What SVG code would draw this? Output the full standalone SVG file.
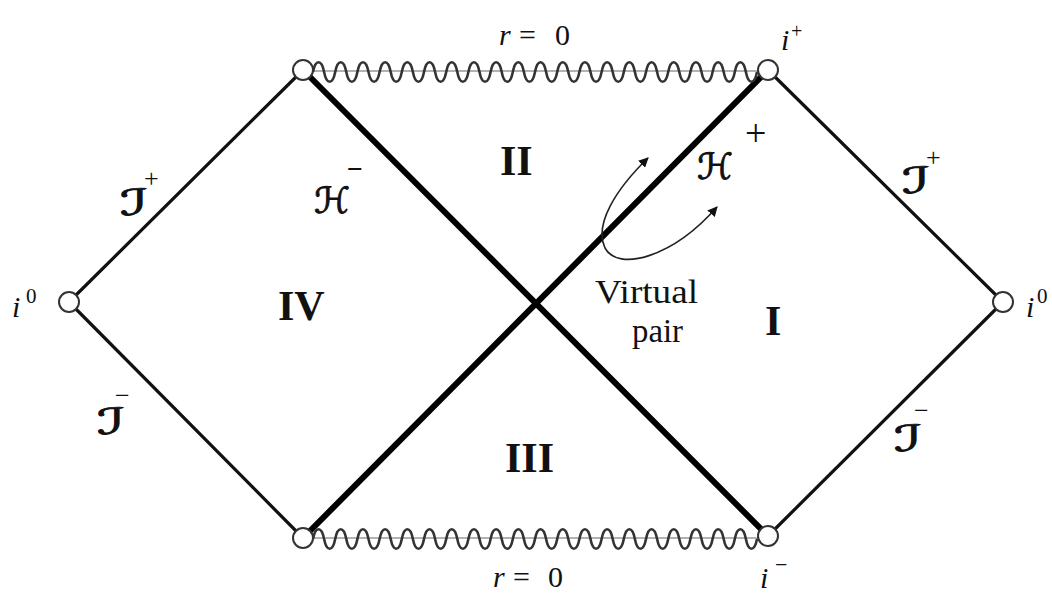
<svg xmlns="http://www.w3.org/2000/svg" width="1052" height="593" viewBox="0 0 1052 593">
<defs>
<style>
.thin{stroke:#111;stroke-width:3.2;fill:none;stroke-linecap:round}
.thick{stroke:#000;stroke-width:6;fill:none;stroke-linecap:round}
.wave{stroke:#333;stroke-width:2.6;fill:none}
.base{stroke:#666;stroke-width:1.2}
.pt{fill:#fff;stroke:#333;stroke-width:2}
.t{font-family:"Liberation Serif",serif;fill:#111}
.it{font-style:italic}
.num{font-family:"Liberation Serif",serif;font-weight:bold;font-size:42px;fill:#111}
.scr{font-family:"DejaVu Serif","DejaVu Sans",serif;font-style:italic;font-size:36px;fill:#111;stroke:#111;stroke-width:0.9}
.arr{stroke:#222;stroke-width:1.6;fill:none}
</style>
<marker id="ah" viewBox="0 0 10 10" refX="9" refY="5" markerWidth="10" markerHeight="10" markerUnits="userSpaceOnUse" orient="auto-start-reverse">
<path d="M0,0 L10,5 L0,10 z" fill="#111"/>
</marker>
</defs>
<rect width="1052" height="593" fill="#fff"/>
<g id="connectors">
<line class="thin" x1="69" y1="302" x2="303" y2="70"/>
<line class="thin" x1="69" y1="302" x2="303" y2="538"/>
<line class="thin" x1="768" y1="70" x2="1003" y2="302"/>
<line class="thin" x1="1003" y1="302" x2="768" y2="536"/>
<line class="thick" x1="303" y1="70" x2="768" y2="536"/>
<line class="thick" x1="303" y1="538" x2="768" y2="70"/>
<line class="base" x1="303" y1="71" x2="768" y2="71"/>
<path class="wave" d="M313,72 c2.5,-13 8.6,-13 11.1,0 c2.5,13 8.6,13 11.1,0 c2.5,-13 8.6,-13 11.1,0 c2.5,13 8.6,13 11.1,0 c2.5,-13 8.6,-13 11.1,0 c2.5,13 8.6,13 11.1,0 c2.5,-13 8.6,-13 11.1,0 c2.5,13 8.6,13 11.1,0 c2.5,-13 8.6,-13 11.1,0 c2.5,13 8.6,13 11.1,0 c2.5,-13 8.6,-13 11.1,0 c2.5,13 8.6,13 11.1,0 c2.5,-13 8.6,-13 11.1,0 c2.5,13 8.6,13 11.1,0 c2.5,-13 8.6,-13 11.1,0 c2.5,13 8.6,13 11.1,0 c2.5,-13 8.6,-13 11.1,0 c2.5,13 8.6,13 11.1,0 c2.5,-13 8.6,-13 11.1,0 c2.5,13 8.6,13 11.1,0 c2.5,-13 8.6,-13 11.1,0 c2.5,13 8.6,13 11.1,0 c2.5,-13 8.6,-13 11.1,0 c2.5,13 8.6,13 11.1,0 c2.5,-13 8.6,-13 11.1,0 c2.5,13 8.6,13 11.1,0 c2.5,-13 8.6,-13 11.1,0 c2.5,13 8.6,13 11.1,0 c2.5,-13 8.6,-13 11.1,0 c2.5,13 8.6,13 11.1,0 c2.5,-13 8.6,-13 11.1,0 c2.5,13 8.6,13 11.1,0 c2.5,-13 8.6,-13 11.1,0 c2.5,13 8.6,13 11.1,0 c2.5,-13 8.6,-13 11.1,0 c2.5,13 8.6,13 11.1,0 c2.5,-13 8.6,-13 11.1,0 c2.5,13 8.6,13 11.1,0 c2.5,-13 8.6,-13 11.1,0 c2.5,13 8.6,13 11.1,0"/>
<line class="base" x1="303" y1="538" x2="768" y2="538"/>
<path class="wave" d="M313,539 c2.5,-13 8.6,-13 11.1,0 c2.5,13 8.6,13 11.1,0 c2.5,-13 8.6,-13 11.1,0 c2.5,13 8.6,13 11.1,0 c2.5,-13 8.6,-13 11.1,0 c2.5,13 8.6,13 11.1,0 c2.5,-13 8.6,-13 11.1,0 c2.5,13 8.6,13 11.1,0 c2.5,-13 8.6,-13 11.1,0 c2.5,13 8.6,13 11.1,0 c2.5,-13 8.6,-13 11.1,0 c2.5,13 8.6,13 11.1,0 c2.5,-13 8.6,-13 11.1,0 c2.5,13 8.6,13 11.1,0 c2.5,-13 8.6,-13 11.1,0 c2.5,13 8.6,13 11.1,0 c2.5,-13 8.6,-13 11.1,0 c2.5,13 8.6,13 11.1,0 c2.5,-13 8.6,-13 11.1,0 c2.5,13 8.6,13 11.1,0 c2.5,-13 8.6,-13 11.1,0 c2.5,13 8.6,13 11.1,0 c2.5,-13 8.6,-13 11.1,0 c2.5,13 8.6,13 11.1,0 c2.5,-13 8.6,-13 11.1,0 c2.5,13 8.6,13 11.1,0 c2.5,-13 8.6,-13 11.1,0 c2.5,13 8.6,13 11.1,0 c2.5,-13 8.6,-13 11.1,0 c2.5,13 8.6,13 11.1,0 c2.5,-13 8.6,-13 11.1,0 c2.5,13 8.6,13 11.1,0 c2.5,-13 8.6,-13 11.1,0 c2.5,13 8.6,13 11.1,0 c2.5,-13 8.6,-13 11.1,0 c2.5,13 8.6,13 11.1,0 c2.5,-13 8.6,-13 11.1,0 c2.5,13 8.6,13 11.1,0 c2.5,-13 8.6,-13 11.1,0 c2.5,13 8.6,13 11.1,0"/>
<path class="arr" marker-start="url(#ah)" marker-end="url(#ah)" d="M648,158 C615,190 594,225 605,248 C618,272 672,258 717,207"/>
</g>
<g id="n-top-left"><circle class="pt" cx="303" cy="70" r="10"/></g>
<g id="n-top-right"><circle class="pt" cx="768" cy="70" r="10"/>
<text class="t it" x="781" y="50" font-size="30">i</text><text class="t" x="791" y="38" font-size="20">+</text></g>
<g id="n-bottom-left"><circle class="pt" cx="303" cy="538" r="10"/></g>
<g id="n-bottom-right"><circle class="pt" cx="768" cy="536" r="10"/>
<text class="t it" x="760" y="588" font-size="30">i</text><text class="t" x="775" y="572" font-size="22">−</text></g>
<g id="n-left"><circle class="pt" cx="69" cy="302" r="10"/>
<text class="t it" x="12" y="317" font-size="30">i</text><text class="t" x="26" y="303" font-size="21">0</text></g>
<g id="n-right"><circle class="pt" cx="1003" cy="302" r="10"/>
<text class="t it" x="1026" y="317" font-size="30">i</text><text class="t" x="1037" y="303" font-size="21">0</text></g>
<g id="labels">
<text class="t" font-size="30" y="45"><tspan class="it" x="499">r</tspan><tspan x="519">=</tspan><tspan x="555">0</tspan></text>
<text class="t" font-size="30" y="587"><tspan class="it" x="493">r</tspan><tspan x="513">=</tspan><tspan x="548">0</tspan></text>
<text class="scr" x="120" y="215" textLength="28" lengthAdjust="spacingAndGlyphs">ℐ</text><text class="t" x="144" y="187" font-size="26">+</text>
<text class="scr" x="902" y="193" textLength="28" lengthAdjust="spacingAndGlyphs">ℐ</text><text class="t" x="926" y="166" font-size="26">+</text>
<text class="scr" x="97" y="434" textLength="28" lengthAdjust="spacingAndGlyphs">ℐ</text><text class="t" x="115" y="404" font-size="26">−</text>
<text class="scr" x="894" y="451" textLength="28" lengthAdjust="spacingAndGlyphs">ℐ</text><text class="t" x="914" y="419" font-size="26">−</text>
<text class="scr" x="314" y="213" textLength="36" lengthAdjust="spacingAndGlyphs">ℋ</text><text class="t" x="347" y="178" font-size="28" font-weight="bold">−</text>
<text class="scr" x="697" y="179" textLength="36" lengthAdjust="spacingAndGlyphs">ℋ</text><text class="t" x="745" y="146" font-size="38">+</text>
<text class="num" x="500" y="175">II</text>
<text class="num" x="278" y="320">IV</text>
<text class="num" x="505" y="472">III</text>
<text class="num" x="765" y="335">I</text>
<text class="t" x="595" y="303" font-size="34" textLength="103" lengthAdjust="spacingAndGlyphs">Virtual</text>
<text class="t" x="632" y="342" font-size="34" textLength="51" lengthAdjust="spacingAndGlyphs">pair</text>
</g>
</svg>
